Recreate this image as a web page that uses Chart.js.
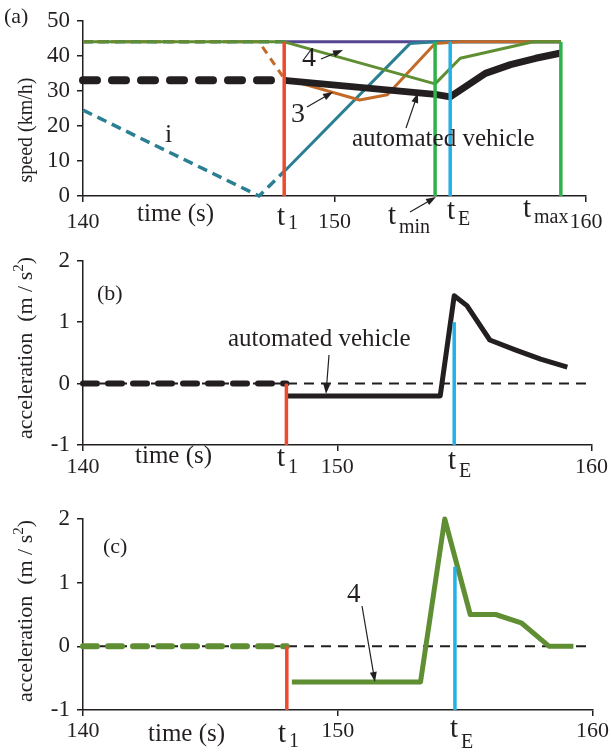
<!DOCTYPE html>
<html>
<head>
<meta charset="utf-8">
<script src="https://cdn.jsdelivr.net/npm/chart.js@4.4.0/dist/chart.umd.min.js"></script>
<style>
body { margin: 0; background: #fff; }
#wrap { position: relative; width: 611px; height: 756px; }
canvas { position: absolute; left: 0; }
</style>
</head>
<body>
<div id="wrap">
<canvas id="panA" width="611" height="240" style="top:0px"></canvas>
<canvas id="panB" width="611" height="250" style="top:240px"></canvas>
<canvas id="panC" width="611" height="266" style="top:490px"></canvas>
</div>
<script>
const serif = "'Liberation Serif', 'Times New Roman', serif";
const ink = "#231f20";
const red = "#ee4a2f", blue = "#22b0e6", brightGreen = "#2db34a";
const olive = "#5f8f32", orange = "#c36a28", teal = "#2a7f92", purple = "#55448f";

// key times (s)
const t1 = 148, tMin = 154, tE = 154.6, tMax = 159;

// (a) speed (km/h)
const vehITimeDash = [140, 147, 148];
const vehISpeedDash = [24.5, 0, 7];
const vehITime = [148, 153, 154, 159];
const vehISpeed = [7, 43.5, 44, 44];
const veh2TimeDash = [140, 148];
const veh2SpeedDash = [44, 44];
const leadTime = [148, 159];
const leadSpeed = [44, 44];
const veh3TimeDash = [140, 147, 148];
const veh3SpeedDash = [44, 44, 33.5];
const veh3Time = [148, 151, 152.1, 154, 155, 159];
const veh3Speed = [33.5, 27.4, 28.9, 43.5, 44, 44];
const veh4Time = [140, 148, 154, 155, 157.9, 159];
const veh4Speed = [44, 44, 32, 39.3, 44, 44];
const avTimeDash = [140, 148];
const avSpeedDash = [33, 33];
const avTime = [148, 151, 154, 154.6, 156, 157, 158, 159];
const avSpeed = [33, 31, 29, 28.3, 35, 37.5, 39.3, 40.8];
const speedMarkTop = 44;

// (b) automated vehicle acceleration (m/s2)
const baseTime = [140, 160];
const baseAcc = [0, 0];
const avAccTimeDash = [140, 148];
const avAccDash = [0, 0];
const avAccTime = [148, 154.05, 154.6, 155.1, 156, 157, 158, 159.05];
const avAcc = [-0.2, -0.2, 1.43, 1.27, 0.71, 0.55, 0.4, 0.27];
const accMarkTopB = 1.0;

// (c) vehicle 4 acceleration (m/s2)
const v4AccTimeDash = [140, 148];
const v4AccDash = [0, 0];
const v4AccTime = [148.2, 153.25, 154.2, 155.2, 156.2, 157.2, 158.3, 159.25];
const v4Acc = [-0.56, -0.56, 2.0, 0.5, 0.5, 0.37, 0, 0];
const accMarkTopC = 1.25;

const timeTicks = [140, 150, 160];
const speedTicks = [0, 10, 20, 30, 40, 50];
const accTicks = [-1, 0, 1, 2];

function line(xs, ys, color, width, dash, round) {
    return {
        data: xs.map((x, i) => ({ x: x, y: ys[i] })),
        borderColor: color, borderWidth: width, borderDash: dash || [],
        borderCapStyle: round ? "round" : "butt", borderJoinStyle: "round",
        pointRadius: 0, tension: 0, fill: false, clip: false
    };
}
function vline(t, y0, y1, color) {
    return line([t, t], [y0, y1], color, 3.5);
}

// drawing helpers for labels
function txt(ctx, s, x, y, size, align) {
    ctx.font = size + "px " + serif;
    ctx.fillStyle = ink;
    ctx.textAlign = align || "left";
    ctx.textBaseline = "alphabetic";
    ctx.fillText(s, x, y);
}
function tLabel(ctx, x, y, sub, subY) {
    txt(ctx, "t", x, y, 29);
    txt(ctx, sub, x + 11, subY, 20);
}
function arrow(ctx, x0, y0, x1, y1) {
    const a = Math.atan2(y1 - y0, x1 - x0);
    ctx.strokeStyle = ink; ctx.fillStyle = ink; ctx.lineWidth = 1.2;
    ctx.beginPath(); ctx.moveTo(x0, y0); ctx.lineTo(x1 - 7 * Math.cos(a), y1 - 7 * Math.sin(a)); ctx.stroke();
    ctx.beginPath();
    ctx.moveTo(x1, y1);
    ctx.lineTo(x1 - 10 * Math.cos(a) + 3.5 * Math.sin(a), y1 - 10 * Math.sin(a) - 3.5 * Math.cos(a));
    ctx.lineTo(x1 - 10 * Math.cos(a) - 3.5 * Math.sin(a), y1 - 10 * Math.sin(a) + 3.5 * Math.cos(a));
    ctx.closePath(); ctx.fill();
}
function yTitle(ctx, parts, x, y) {
    ctx.save();
    ctx.translate(x, y);
    ctx.rotate(-Math.PI / 2);
    let w = 0;
    parts.forEach(p => { ctx.font = p.size + "px " + serif; w += ctx.measureText(p.t).width; });
    let cx = -w / 2;
    ctx.fillStyle = ink; ctx.textAlign = "left"; ctx.textBaseline = "alphabetic";
    parts.forEach(p => {
        ctx.font = p.size + "px " + serif;
        ctx.fillText(p.t, cx, 8 + (p.dy || 0));
        cx += ctx.measureText(p.t).width;
    });
    ctx.restore();
}

function makePanel(id, datasets, yMin, yMax, yTicks, pad, xHeight, xPad, drawLabels) {
    new Chart(document.getElementById(id), {
        type: "line",
        data: { datasets: datasets },
        options: {
            responsive: false, animation: false,
            layout: { padding: pad },
            plugins: { legend: { display: false }, tooltip: { enabled: false } },
            scales: {
                x: {
                    type: "linear", min: 140, max: 160,
                    afterBuildTicks: s => { s.ticks = timeTicks.map(v => ({ value: v })); },
                    afterFit: s => { s.height = xHeight; },
                    ticks: { font: { family: serif, size: 22 }, color: ink, padding: xPad, maxRotation: 0, autoSkip: false },
                    grid: { display: true, drawOnChartArea: false, drawTicks: true, tickLength: 6, color: ink, lineWidth: 1.5 },
                    border: { color: ink, width: 1.5 }
                },
                y: {
                    min: yMin, max: yMax,
                    afterBuildTicks: s => { s.ticks = yTicks.map(v => ({ value: v })); },
                    afterFit: s => { s.width = 83; },
                    ticks: { font: { family: serif, size: 23 }, color: ink, padding: 7 },
                    grid: { display: true, drawOnChartArea: false, drawTicks: true, tickLength: 6, color: ink, lineWidth: 1.5 },
                    border: { color: ink, width: 1.5 }
                }
            }
        },
        plugins: [{
            id: "labels",
            afterDatasetsDraw(chart) {
                const ctx = chart.ctx;
                ctx.save();
                drawLabels(ctx);
                ctx.restore();
            }
        }]
    });
}

// panel (a)
makePanel("panA", [
    vline(t1, 0, speedMarkTop, red),
    vline(tMin, 0, speedMarkTop, brightGreen),
    vline(tE, 0, speedMarkTop, blue),
    vline(tMax, 0, speedMarkTop, brightGreen),
    line(avTime, avSpeed, ink, 7),
    line(avTimeDash, avSpeedDash, ink, 8, [14, 15], true),
    line(veh4Time, veh4Speed, olive, 3),
    line(veh3Time, veh3Speed, orange, 3),
    line(veh3TimeDash, veh3SpeedDash, orange, 3, [8, 6]),
    line(vehITime, vehISpeed, teal, 3),
    line(vehITimeDash, vehISpeedDash, teal, 3.5, [10, 6]),
    line(veh2TimeDash, veh2SpeedDash, teal, 3.5, [10, 6]),
    line(leadTime, leadSpeed, purple, 3)
], 0, 50, speedTicks, { top: 11, right: 25, left: 0, bottom: 0 }, 44, 7, ctx => {
    txt(ctx, "(a)", 4, 23, 22);
    yTitle(ctx, [{ t: "speed (km/h)", size: 20 }], 24, 130);
    txt(ctx, "time (s)", 137, 221, 25);
    tLabel(ctx, 277, 225, "1", 229);
    tLabel(ctx, 388, 224, "min", 233);
    tLabel(ctx, 447, 219, "E", 225);
    tLabel(ctx, 523, 217, "max", 223);
    arrow(ctx, 410, 212, 436, 197);
    txt(ctx, "i", 165, 142, 26);
    txt(ctx, "4", 302, 66, 28);
    arrow(ctx, 321, 59, 343, 50);
    txt(ctx, "3", 291, 122, 28);
    arrow(ctx, 307, 107, 333, 92);
    txt(ctx, "automated vehicle", 352, 146, 25);
    arrow(ctx, 406, 128, 418, 93);
});

// panel (b)
makePanel("panB", [
    vline(t1, -1, 0, red),
    vline(tE, -1, accMarkTopB, blue),
    line(avAccTime, avAcc, ink, 5),
    line(avAccTimeDash, avAccDash, ink, 6, [14, 11], true),
    line(baseTime, baseAcc, ink, 2, [10, 7])
], -1, 2, accTicks, { top: 15, right: 19, left: 0, bottom: 0 }, 45, 3, ctx => {
    const o = 240;
    txt(ctx, "(b)", 97, 300 - o, 22);
    yTitle(ctx, [{ t: "acceleration  (m / s", size: 22 }, { t: "2", size: 15, dy: -9 }, { t: ")", size: 22 }], 24, 348 - o);
    txt(ctx, "time (s)", 135, 463 - o, 25);
    tLabel(ctx, 277, 466 - o, "1", 473 - o);
    tLabel(ctx, 448, 469 - o, "E", 477 - o);
    txt(ctx, "automated vehicle", 228, 346 - o, 25);
    arrow(ctx, 329, 355 - o, 326, 394 - o);
});

// panel (c)
makePanel("panC", [
    vline(t1, -1, 0, red),
    vline(tE, -1, accMarkTopC, blue),
    line(v4AccTime, v4Acc, olive, 5),
    line(v4AccTimeDash, v4AccDash, olive, 6, [14, 11], true),
    line(baseTime, baseAcc, ink, 2, [10, 7])
], -1, 2, accTicks, { top: 29, right: 18, left: 0, bottom: 0 }, 46, 2, ctx => {
    const o = 490;
    txt(ctx, "(c)", 103, 553 - o, 22);
    yTitle(ctx, [{ t: "acceleration  (m / s", size: 22 }, { t: "2", size: 15, dy: -9 }, { t: ")", size: 22 }], 24, 611 - o);
    txt(ctx, "time (s)", 148, 741 - o, 25);
    tLabel(ctx, 278, 742 - o, "1", 747 - o);
    tLabel(ctx, 450, 737 - o, "E", 748 - o);
    txt(ctx, "4", 347, 602 - o, 27);
    arrow(ctx, 362, 606 - o, 375, 682 - o);
});
</script>
</body>
</html>
